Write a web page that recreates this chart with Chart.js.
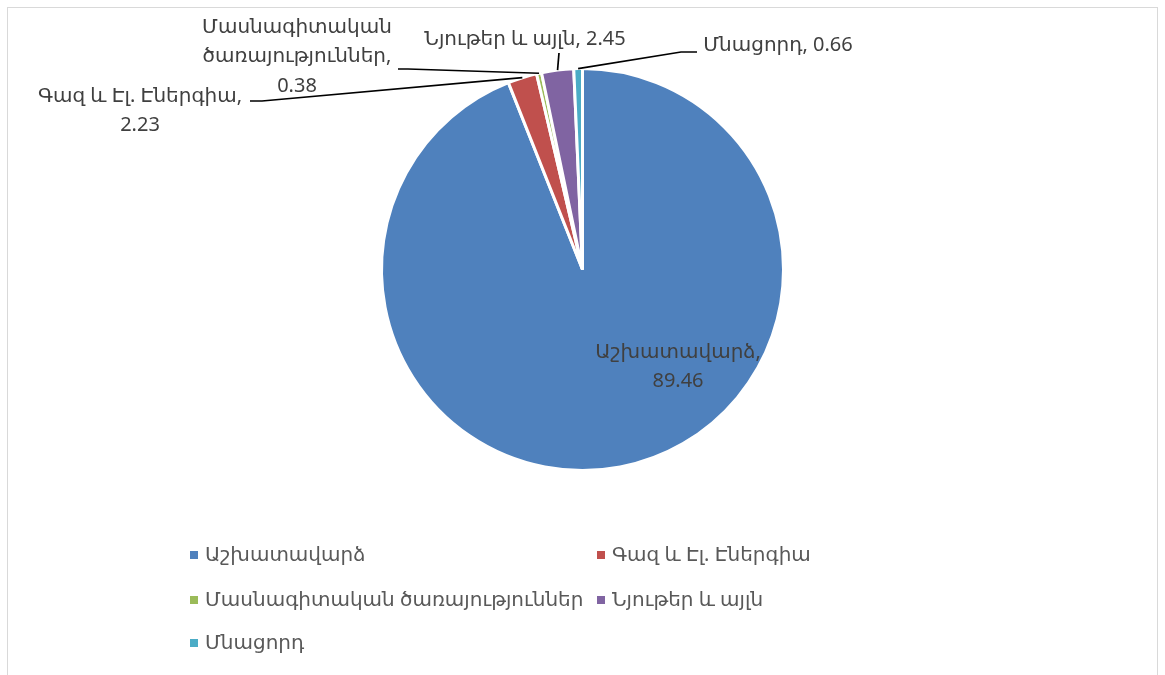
<!DOCTYPE html>
<html>
<head>
<meta charset="utf-8">
<script src="https://cdn.jsdelivr.net/npm/chart.js@4.4.0/dist/chart.umd.min.js"></script>
<style>
  body { margin: 0; background: #fff; }
  canvas { display: block; }
</style>
</head>
<body>
<canvas id="chart" width="1165" height="675"></canvas>
<script>
// data
const categories = ["Աշխատավարձ", "Գազ և Էլ. Էներգիա", "Մասնագիտական ծառայություններ", "Նյութեր և այլն", "Մնացորդ"];
const values = [89.46, 2.23, 0.38, 2.45, 0.66];
const colors = ["#4F81BD", "#C0504D", "#9BBB59", "#8064A2", "#4BACC6"];

const FONT = '"Noto Sans", "DejaVu Sans", sans-serif';

// label placement: x = centre of text block, y = middle of first line
// mode: how the "name, value" text is broken into lines
const labelLayout = [
  { mode: "two", x: 678, y: 352 },
  { mode: "two", x: 140, y: 96, lx: 250, ly: 101, ex: 262 },
  { mode: "words", x: 297, y: 27, lx: 398, ly: 69, ex: 408 },
  { mode: "one", x: 525, y: 39, lx: 559, ly: 53, ex: 559, vertical: true },
  { mode: "one", x: 778, y: 45, lx: 697, ly: 52, ex: 681 }
];

function labelLines(i, mode) {
  const name = categories[i], v = values[i].toFixed(2);
  if (mode === "one") return [name + ", " + v];
  if (mode === "two") return [name + ",", v];
  const parts = name.split(" ");
  parts[parts.length - 1] += ",";
  return parts.concat([v]);
}

const decorPlugin = {
  id: "decor",
  beforeDraw(chart) {
    const ctx = chart.ctx;
    ctx.save();
    ctx.strokeStyle = "#d9d9d9";
    ctx.lineWidth = 1;
    ctx.strokeRect(7.5, 7.5, 1150, 700);
    ctx.restore();
  },
  afterDraw(chart) {
    const ctx = chart.ctx;
    const arcs = chart.getDatasetMeta(0).data;
    ctx.save();
    ctx.font = "20px " + FONT;
    ctx.fillStyle = "#404040";
    ctx.textAlign = "center";
    ctx.textBaseline = "middle";
    labelLayout.forEach((l, i) => {
      const lines = labelLines(i, l.mode);
      lines.forEach((t, k) => ctx.fillText(t, l.x, l.y + k * 29.5));
      if (l.lx === undefined) return;
      const a = arcs[i].getProps(["x", "y", "startAngle", "endAngle", "outerRadius"], true);
      const mid = (a.startAngle + a.endAngle) / 2;
      const px = a.x + Math.cos(mid) * a.outerRadius;
      const py = a.y + Math.sin(mid) * a.outerRadius;
      ctx.beginPath();
      ctx.strokeStyle = "#000";
      ctx.lineWidth = 1.7;
      ctx.moveTo(l.lx, l.ly);
      if (!l.vertical) ctx.lineTo(l.ex, l.ly);
      ctx.lineTo(px, py);
      ctx.stroke();
    });

    // legend, two columns
    ctx.font = "20px " + FONT;
    ctx.textAlign = "left";
    const colX = [190, 597], rowY = [555, 600, 643];
    categories.forEach((c, i) => {
      const x = colX[i % 2], y = rowY[Math.floor(i / 2)];
      ctx.fillStyle = colors[i];
      ctx.fillRect(x, y - 4, 8, 8);
      ctx.fillStyle = "#595959";
      ctx.fillText(c, x + 15, y);
    });
    ctx.restore();
  }
};

new Chart(document.getElementById("chart"), {
  type: "pie",
  data: {
    labels: categories,
    datasets: [{
      data: values,
      backgroundColor: colors,
      borderColor: "#fff",
      borderWidth: 3
    }]
  },
  options: {
    responsive: false,
    animation: false,
    layout: { padding: { top: 67, bottom: 203, left: 0, right: 0 } },
    plugins: {
      legend: { display: false },
      tooltip: { enabled: false }
    }
  },
  plugins: [decorPlugin]
});
</script>
</body>
</html>
